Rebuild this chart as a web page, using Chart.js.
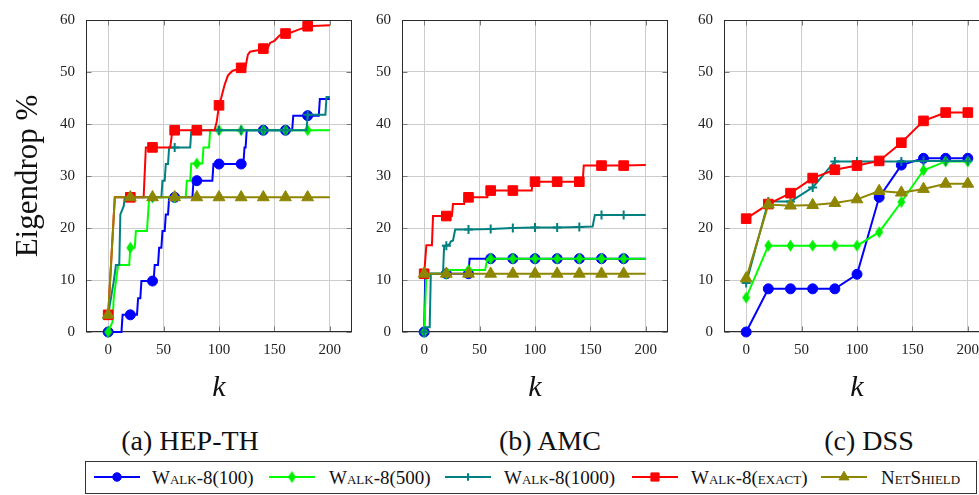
<!DOCTYPE html>
<html>
<head>
<meta charset="utf-8">
<script src="https://cdn.jsdelivr.net/npm/chart.js@4.4.0/dist/chart.umd.min.js"></script>
<style>
    html, body { margin: 0; padding: 0; background: #fff; }
    body { width: 979px; height: 495px; overflow: hidden; position: relative; font-family: 'Liberation Serif', 'Times New Roman', Tinos, serif; color: #111; }
    .panel { position: absolute; top: 0; width: 362px; height: 410px; }
    .caption { position: absolute; top: 424px; width: 300px; text-align: center; font-size: 28px; line-height: 34px; font-family: 'Liberation Serif', 'Times New Roman', serif; }
    #legend { position: absolute; left: 85px; top: 461px; width: 892px; height: 33px; border: 1px solid #333; box-sizing: border-box; }
    .leg-icon { position: absolute; top: 7px; }
    .leg-text { position: absolute; top: 5px; font-size: 19px; line-height: 22px; font-variant: small-caps; white-space: nowrap; font-family: 'Liberation Serif', 'Times New Roman', serif; }
</style>
</head>
<body>

<div class="panel" style="left:0px"><canvas id="chart-hep" width="362" height="410"></canvas></div>
<div class="panel" style="left:316px"><canvas id="chart-amc" width="362" height="410"></canvas></div>
<div class="panel" style="left:638px"><canvas id="chart-dss" width="362" height="410"></canvas></div>

<div class="caption" style="left:40px">(a) HEP-TH</div>
<div class="caption" style="left:400px">(b) AMC</div>
<div class="caption" style="left:719px">(c) DSS</div>

<div id="legend"></div>

<script>
// =================================================================
// Data (k = number of removed items, value = Eigendrop %)
// =================================================================

// --- (a) HEP-TH ---
const hepW100K = [0, 12, 13, 20, 26, 27, 29, 30, 40, 41, 42, 45, 46, 48, 49, 51, 52, 54, 55, 60, 76, 77, 80, 94, 95, 100, 120, 122, 123, 124, 125, 140, 160, 166, 167, 180, 190, 191, 200];
const hepW100V = [0, 0, 3.3, 3.3, 3.3, 6.5, 6.5, 9.8, 9.8, 9.8, 12.9, 12.9, 16.2, 16.2, 19.4, 19.4, 22.6, 22.6, 25.9, 25.9, 25.9, 29.1, 29.1, 29.1, 32.3, 32.3, 32.3, 32.3, 35.5, 35.5, 38.8, 38.8, 38.8, 38.8, 41.6, 41.6, 41.6, 44.8, 44.8];

const hepW500K = [0, 4, 5, 7, 9, 19, 20, 24, 25, 35, 37, 40, 60, 70, 71, 74, 75, 80, 85, 86, 91, 92, 100, 120, 140, 160, 180, 200];
const hepW500V = [0, 2, 6.5, 9.7, 12.9, 12.9, 16.2, 16.2, 19.4, 19.4, 25.9, 25.9, 25.9, 25.9, 29.1, 29.1, 32.4, 32.4, 32.4, 35.5, 35.5, 38.8, 38.8, 38.8, 38.8, 38.8, 38.8, 38.8];

const hepW1000K = [0, 5, 7, 10, 11, 14, 15, 20, 40, 48, 49, 51, 52, 54, 55, 60, 74, 75, 80, 100, 120, 140, 160, 179, 180, 196, 197, 200];
const hepW1000V = [3.3, 9.7, 12.9, 12.9, 22.6, 24.2, 25.9, 25.9, 25.9, 25.9, 29.1, 29.1, 32.3, 32.3, 35.5, 35.5, 35.5, 38.8, 38.8, 38.8, 38.8, 38.8, 38.8, 38.8, 41.8, 41.8, 45.2, 45.2];

const hepExactK = [0, 6, 20, 32, 34, 40, 56, 58, 60, 80, 96, 98, 100, 102, 105, 108, 112, 116, 120, 124, 126, 128, 135, 140, 144, 146, 150, 155, 160, 165, 170, 175, 180, 190, 200];
const hepExactV = [3.3, 25.9, 25.9, 25.9, 35.5, 35.5, 35.5, 38.8, 38.8, 38.8, 38.8, 40.5, 43.6, 45, 47.5, 49.3, 50.2, 50.5, 50.8, 51, 53.3, 53.9, 54.2, 54.5, 54.6, 55.6, 56, 57.1, 57.4, 57.6, 58, 58.4, 58.8, 58.9, 59];

const hepNetK = [0, 6, 20, 40, 60, 80, 100, 120, 140, 160, 180, 200];
const hepNetV = [3.3, 25.9, 25.9, 25.9, 25.9, 25.9, 25.9, 25.9, 25.9, 25.9, 25.9, 25.9];

// --- (b) AMC ---
const amcW100K = [0, 1, 20, 40, 41, 60, 80, 100, 120, 140, 160, 180, 200];
const amcW100V = [0, 11.2, 11.2, 11.2, 14.1, 14.1, 14.1, 14.1, 14.1, 14.1, 14.1, 14.1, 14.1];

const amcW500K = [0, 2, 20, 21, 40, 55, 57, 60, 80, 100, 120, 140, 160, 180, 200];
const amcW500V = [0, 11.2, 11.2, 11.9, 11.9, 11.9, 14.1, 14.1, 14.1, 14.1, 14.1, 14.1, 14.1, 14.1, 14.1];

const amcW1000K = [0, 1, 5, 6, 17, 18, 20, 23, 24, 26, 28, 40, 60, 80, 100, 120, 140, 152, 154, 160, 180, 200];
const amcW1000V = [0, 0.9, 0.9, 11.2, 11.2, 16.6, 16.6, 16.9, 17.4, 17.6, 19.7, 19.7, 19.8, 20.0, 20.1, 20.1, 20.2, 20.3, 22.5, 22.5, 22.5, 22.5];

const amcExactK = [0, 2, 7, 8, 20, 25, 26, 36, 37, 40, 57, 58, 60, 80, 97, 98, 100, 120, 140, 143, 144, 160, 180, 200];
const amcExactV = [11.2, 16.7, 16.7, 22.3, 22.3, 22.3, 24.6, 24.6, 25.9, 25.9, 25.9, 27.2, 27.2, 27.2, 27.2, 28.9, 28.9, 28.9, 28.9, 28.9, 32.0, 32.0, 32.0, 32.1];

const amcNetK = [0, 20, 40, 60, 80, 100, 120, 140, 160, 180, 200];
const amcNetV = [11.2, 11.2, 11.2, 11.2, 11.2, 11.2, 11.2, 11.2, 11.2, 11.2, 11.2];

// --- (c) DSS (one value every 20) ---
const dssK = [0, 20, 40, 60, 80, 100, 120, 140, 160, 180, 200];
const dssW100 = [0, 8.3, 8.3, 8.3, 8.3, 11.1, 25.9, 32.1, 33.4, 33.4, 33.4];
const dssW500 = [6.6, 16.6, 16.6, 16.6, 16.6, 16.6, 19.2, 25.0, 31.1, 32.8, 32.8];
const dssW1000 = [9.4, 25.1, 25.1, 27.8, 32.8, 32.8, 32.8, 32.8, 32.9, 32.9, 32.9];
const dssExact = [21.8, 24.6, 26.7, 29.6, 31.2, 32.0, 32.9, 36.4, 40.6, 42.2, 42.2];
const dssNet = [10.3, 24.5, 24.3, 24.4, 24.8, 25.5, 27.1, 26.8, 27.5, 28.5, 28.5];

// axis ticks
const xTickValues = [0, 50, 100, 150, 200];
const yTickStep = 10;

const SERIF = "'Liberation Serif', 'Times New Roman', serif";

// =================================================================
// Series look (pgfplots-like marks)
// =================================================================
function diamondMark(color) {
    const c = document.createElement('canvas');
    c.width = 9; c.height = 13;
    const g = c.getContext('2d');
    g.fillStyle = color;
    g.beginPath();
    g.moveTo(4.5, 0.5); g.lineTo(8.5, 6.5); g.lineTo(4.5, 12.5); g.lineTo(0.5, 6.5);
    g.closePath();
    g.fill();
    return c;
}

const SERIES = [
    { label: 'Walk-8(100)', color: '#0000ff', style: 'circle', radius: 5, bw: 1 },
    { label: 'Walk-8(500)', color: '#00ff00', style: diamondMark('#00ee00'), radius: 5, bw: 1 },
    { label: 'Walk-8(1000)', color: '#008080', style: 'cross', radius: 4.5, bw: 2 },
    { label: 'Walk-8(exact)', color: '#ff0000', style: 'rect', radius: 6.8, bw: 1 },
    { label: 'NetShield', color: '#8e8600', style: 'triangle', radius: 6.8, bw: 1 }
];

function makeDataset(s, idx, ks, vs, lastMark) {
    return {
        label: s.label,
        data: ks.map((k, i) => ({ x: k, y: vs[i] })),
        borderColor: s.color,
        backgroundColor: s.color,
        borderWidth: 2,
        pointStyle: s.style,
        pointBorderWidth: s.bw,
        pointBorderColor: s.color,
        pointBackgroundColor: s.color,
        pointRadius: ctx => {
            const p = ctx.raw;
            return (p && p.x % 20 === 0 && p.x <= lastMark) ? s.radius : 0;
        },
        pointHoverRadius: 0,
        tension: 0,
        clip: false,
        order: SERIES.length - idx   // later series drawn on top
    };
}

// inner tick marks + frame, like the original axis box
const frameTicks = {
    id: 'frameTicks',
    beforeDatasetsDraw(chart) {
        const { ctx, chartArea: a, scales } = chart;
        const L = Math.round(a.left) + 0.5, R = Math.round(a.right) - 0.5;
        const T = Math.round(a.top) + 0.5, B = Math.round(a.bottom) - 0.5;
        ctx.save();
        ctx.strokeStyle = '#7a7a7a';
        ctx.lineWidth = 1;
        ctx.beginPath();
        scales.y.ticks.forEach(t => {
            const py = Math.round(scales.y.getPixelForValue(t.value)) + 0.5;
            ctx.moveTo(L, py); ctx.lineTo(L + 5, py);
            ctx.moveTo(R, py); ctx.lineTo(R - 5, py);
        });
        scales.x.ticks.forEach(t => {
            const px = Math.round(scales.x.getPixelForValue(t.value)) + 0.5;
            ctx.moveTo(px, B); ctx.lineTo(px, B - 5);
            ctx.moveTo(px, T); ctx.lineTo(px, T + 5);
        });
        ctx.stroke();
        ctx.strokeStyle = '#2b2b2b';
        ctx.lineWidth = 1;
        ctx.strokeRect(L, T, R - L, B - T);
        ctx.restore();
    }
};

function makeChart(canvasId, datasets, showYTitle) {
    const tickFont = { family: SERIF, size: 15 };
    return new Chart(document.getElementById(canvasId), {
        type: 'line',
        data: { datasets: datasets },
        options: {
            responsive: false,
            animation: false,
            events: [],
            layout: { padding: { top: 18, right: 10, left: 0, bottom: 0 } },
            plugins: { legend: { display: false }, tooltip: { enabled: false } },
            scales: {
                x: {
                    type: 'linear',
                    min: -20,
                    max: 220,
                    afterBuildTicks: scale => { scale.ticks = xTickValues.map(v => ({ value: v })); },
                    afterFit: scale => { scale.height = 78; },
                    grid: { color: '#cdcdcd', lineWidth: 1, drawTicks: false },
                    border: { display: false },
                    ticks: { font: tickFont, color: '#222', padding: 9, maxRotation: 0 },
                    title: {
                        display: true,
                        text: 'k',
                        color: '#111',
                        font: { family: SERIF, size: 30, style: 'italic' },
                        padding: { top: 0, bottom: 4 }
                    }
                },
                y: {
                    min: 0,
                    max: 60,
                    afterFit: scale => { scale.width = 86; },
                    grid: { color: '#cdcdcd', lineWidth: 1, drawTicks: false },
                    border: { display: false },
                    ticks: { stepSize: yTickStep, font: tickFont, color: '#222', padding: 11 },
                    title: {
                        display: showYTitle,
                        text: 'Eigendrop %',
                        color: '#111',
                        font: { family: SERIF, size: 31 },
                        padding: { top: 10, bottom: 0 }
                    }
                }
            }
        },
        plugins: [frameTicks]
    });
}

function drawAll() {
    Chart.defaults.font.family = SERIF;

    const hepSets = [
        [hepW100K, hepW100V], [hepW500K, hepW500V], [hepW1000K, hepW1000V], [hepExactK, hepExactV], [hepNetK, hepNetV]
    ].map((d, i) => makeDataset(SERIES[i], i, d[0], d[1], 180));

    const amcSets = [
        [amcW100K, amcW100V], [amcW500K, amcW500V], [amcW1000K, amcW1000V], [amcExactK, amcExactV], [amcNetK, amcNetV]
    ].map((d, i) => makeDataset(SERIES[i], i, d[0], d[1], 180));

    const dssSets = [dssW100, dssW500, dssW1000, dssExact, dssNet]
        .map((v, i) => makeDataset(SERIES[i], i, dssK, v, 200));

    makeChart('chart-hep', hepSets, true);
    makeChart('chart-amc', amcSets, false);
    makeChart('chart-dss', dssSets, false);

    // Legend (shared, below the three panels)
    const legend = document.getElementById('legend');
    const legendIconX = [8, 183, 359, 546, 735];
    const legendTextX = [66, 243, 418, 605, 795];

    SERIES.forEach((s, i) => {
        const icon = document.createElement('canvas');
        icon.width = 46; icon.height = 16;
        icon.className = 'leg-icon';
        icon.style.left = legendIconX[i] + 'px';
        const g = icon.getContext('2d');
        g.strokeStyle = s.color;
        g.lineWidth = 2;
        g.beginPath(); g.moveTo(0, 8); g.lineTo(46, 8); g.stroke();
        g.fillStyle = s.color;
        g.lineWidth = s.bw;
        Chart.helpers.drawPoint(g, { pointStyle: s.style, radius: s.radius * 0.85, borderWidth: s.bw, rotation: 0 }, 23, 8);
        legend.appendChild(icon);

        const text = document.createElement('span');
        text.className = 'leg-text';
        text.style.left = legendTextX[i] + 'px';
        text.textContent = s.label;
        legend.appendChild(text);
    });
}

Promise.all([
    document.fonts.load("15px 'Liberation Serif'"),
    document.fonts.load("italic 30px 'Liberation Serif'")
]).then(drawAll, drawAll);
</script>
</body>
</html>
